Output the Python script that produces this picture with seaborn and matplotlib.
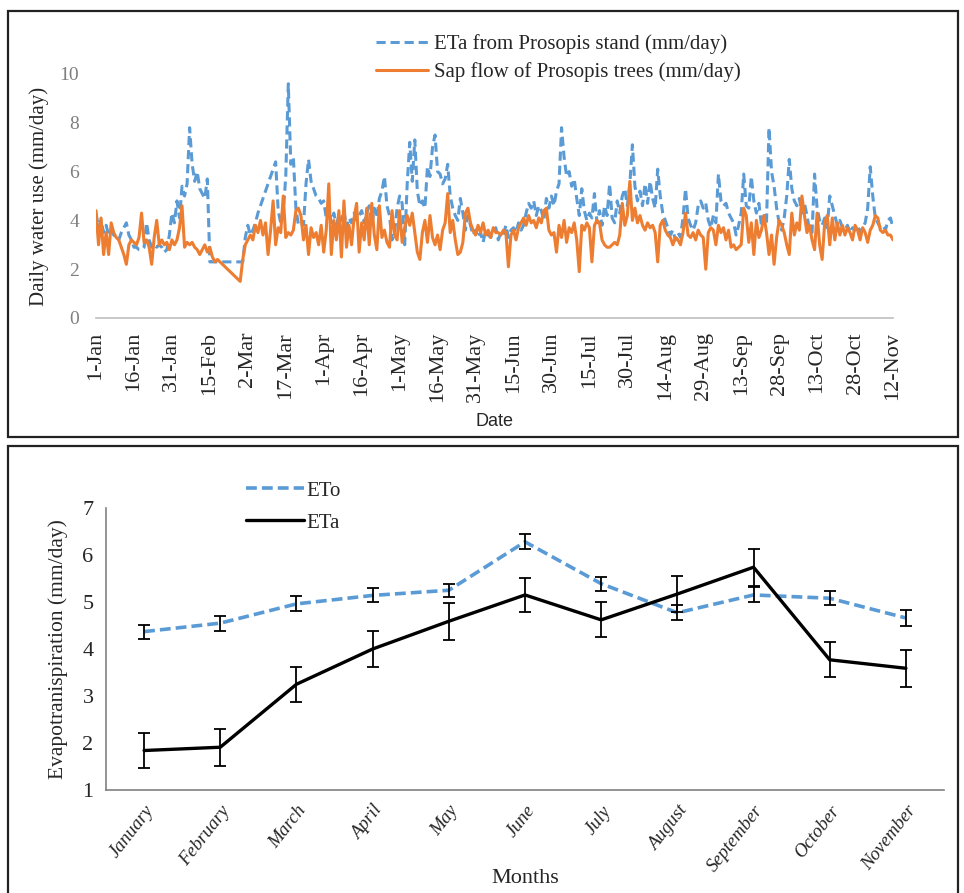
import numpy as np
import pandas as pd
import matplotlib
matplotlib.use("Agg")
import matplotlib.pyplot as plt
import seaborn as sns
from matplotlib.patches import Rectangle

# ---------------- data: top panel (daily, 1-Jan .. 12-Nov) ----------------
date_labels = ['1-Jan', '16-Jan', '31-Jan', '15-Feb', '2-Mar', '17-Mar', '1-Apr', '16-Apr',
               '1-May', '16-May', '31-May', '15-Jun', '30-Jun', '15-Jul', '30-Jul', '14-Aug',
               '29-Aug', '13-Sep', '28-Sep', '13-Oct', '28-Oct', '12-Nov']

eta_stand = [
    4.3, 3.7, 4.0, 3.5, 3.8, 3.4, 3.6, 3.4, 3.3, 3.2, 3.5, 3.7, 3.9, 3.4, 3.2,
    2.9, 2.9, 2.8, 2.8, 2.9, 3.9, 3.2, 2.9, 3.0, 2.9, 3.0, 2.9, 2.7, 2.8, 3.4,
    4.3, 3.9, 4.8, 4.1, 5.4, 5.0, 5.5, 7.8, 6.3, 5.6, 6.0, 5.3, 5.1, 4.9, 5.7,
    2.3, 2.3, 2.3, 2.3, 2.3, 2.3, 2.3, 2.3, 2.3, 2.3, 2.3, 2.3, 2.3, 2.3, 3.3,
    3.8, 3.4, 3.6, 3.9, 4.3, 4.6, 4.9, 5.2, 5.5, 5.8, 6.1, 6.4, 4.4, 3.9, 4.3,
    5.8, 9.6, 6.3, 6.6, 4.5, 3.8, 3.9, 3.8, 5.5, 6.5, 5.6, 5.3, 5.0, 4.9, 4.7,
    4.8, 4.1, 4.5, 3.9, 4.3, 3.8, 4.2, 4.0, 4.4, 3.7, 4.1, 3.9, 4.3, 4.0, 4.2,
    4.4, 3.9, 4.3, 4.6, 3.8, 4.5, 4.1, 4.9, 5.2, 5.8, 4.6, 4.2, 3.2, 3.5, 4.5,
    5.0, 4.7, 3.0, 5.5, 7.2, 5.6, 7.3, 5.2, 4.6, 4.8, 4.5, 6.2, 5.8, 7.0, 7.5,
    6.0, 5.9, 5.5, 5.7, 6.3, 5.0, 4.5, 4.2, 4.0, 4.9, 4.3, 3.6, 4.2, 3.8, 3.4,
    3.6, 3.3, 3.5, 3.1, 3.6, 3.4, 3.3, 3.5, 3.7, 3.2, 3.5, 3.4, 3.8, 3.3, 3.6,
    3.7, 3.5, 3.9, 3.6, 3.8, 4.3, 4.7, 4.5, 4.8, 4.2, 4.6, 4.4, 4.0, 4.9, 4.5,
    5.0, 4.6, 5.2, 5.5, 7.8, 6.6, 5.8, 6.0, 5.4, 5.7, 4.9, 4.2, 5.3, 4.4, 4.0,
    4.3, 4.1, 5.1, 3.9, 4.4, 3.8, 4.6, 4.2, 5.5, 4.1, 3.9, 4.8, 4.3, 5.0, 5.3,
    4.6, 5.5, 7.1, 5.4, 4.8, 5.2, 4.6, 5.5, 4.7, 5.6, 4.9, 4.5, 6.1, 5.0, 4.3,
    4.0, 3.7, 3.4, 3.6, 3.2, 3.5, 3.3, 4.1, 5.3, 4.1, 3.8, 3.6, 3.9, 4.6, 4.8,
    4.5, 4.7, 4.0, 3.7, 4.2, 3.9, 5.9, 4.8, 4.6, 4.7, 4.3, 4.1, 3.9, 3.4, 3.8,
    4.3, 5.9, 4.6, 4.5, 5.8, 4.8, 4.3, 4.7, 3.8, 4.2, 3.9, 7.8, 6.0, 5.4, 4.5,
    3.9, 3.6, 4.1, 5.0, 6.5, 5.3, 4.8, 4.6, 4.9, 4.3, 4.7, 4.2, 3.6, 3.5, 5.9,
    4.5, 4.0, 3.8, 4.1, 3.7, 5.0, 4.6, 4.2, 3.8, 4.0, 3.7, 3.6, 3.8, 3.5, 3.7,
    3.6, 3.8, 3.5, 3.7, 3.9, 4.5, 6.2, 5.0, 4.1, 3.9, 3.7, 3.8, 3.6, 4.0, 4.1,
    3.7]

sap_flow = [
    4.4, 3.0, 4.1, 2.6, 3.5, 2.6, 3.9, 3.5, 3.3, 3.2, 2.9, 2.6, 2.2, 3.0, 3.2,
    3.1, 3.0, 3.3, 4.3, 3.1, 3.2, 2.9, 2.2, 3.3, 4.0, 3.0, 3.2, 3.0, 3.1, 2.8,
    3.2, 3.0, 3.2, 3.7, 4.6, 2.9, 3.1, 3.0, 3.1, 2.9, 2.8, 2.6, 2.8, 3.0, 2.7,
    2.9, 2.5, 2.3, 2.4, 2.3, 2.2, 2.1, 2.0, 1.9, 1.8, 1.7, 1.6, 1.5, 2.4, 3.0,
    3.2, 3.4, 3.2, 3.8, 3.5, 4.0, 3.4, 3.9, 2.6, 3.6, 4.8, 3.0, 3.7, 3.5, 5.0,
    3.3, 3.5, 3.4, 3.6, 4.4, 4.5, 4.2, 3.2, 3.8, 2.6, 3.7, 3.3, 3.5, 3.0, 3.8,
    2.7, 3.6, 5.5, 2.6, 4.0, 3.2, 4.4, 2.5, 4.8, 2.9, 3.8, 3.0, 4.1, 4.7, 2.7,
    3.9, 3.2, 4.5, 3.0, 4.7, 3.4, 2.8, 4.6, 3.3, 3.6, 3.1, 2.9, 4.4, 3.4, 3.2,
    4.4, 3.1, 3.7, 4.2, 3.8, 4.3, 3.5, 2.7, 2.4, 3.5, 4.0, 3.1, 4.2, 3.3, 3.0,
    3.4, 2.8, 3.6, 3.9, 5.1, 3.5, 4.0, 3.2, 2.6, 2.7, 3.1, 4.3, 4.5, 3.9, 3.6,
    3.4, 3.8, 3.5, 3.9, 3.4, 3.6, 3.3, 3.7, 3.5, 3.5, 3.4, 3.6, 3.5, 2.1, 3.4,
    3.6, 3.2, 3.7, 3.9, 4.1, 3.8, 4.2, 3.9, 4.0, 3.7, 4.1, 3.9, 4.4, 4.5, 3.6,
    3.4, 3.5, 2.7, 3.8, 3.3, 4.0, 3.1, 3.7, 3.5, 3.9, 3.2, 1.9, 3.8, 3.6, 3.9,
    3.7, 2.3, 3.8, 4.0, 3.9, 3.2, 3.0, 2.9, 2.9, 3.0, 3.1, 3.0, 3.4, 4.7, 3.8,
    4.2, 5.6, 4.0, 4.5, 3.9, 4.2, 3.8, 3.6, 3.9, 3.7, 3.8, 3.5, 2.3, 3.8, 4.0,
    3.6, 3.4, 3.3, 3.0, 3.3, 3.2, 3.0, 3.5, 4.3, 3.4, 3.3, 3.5, 3.2, 3.6, 3.4,
    3.3, 2.0, 3.5, 3.7, 3.6, 3.0, 3.8, 3.5, 3.7, 3.2, 3.6, 2.9, 3.0, 2.8, 2.9,
    3.0, 4.5, 4.2, 3.1, 3.9, 2.6, 4.0, 3.3, 3.6, 4.2, 3.5, 2.6, 3.4, 2.2, 3.3,
    4.0, 3.8, 3.5, 3.0, 2.6, 4.3, 3.4, 3.9, 3.6, 5.0, 4.2, 3.5, 3.8, 3.2, 2.8,
    4.3, 3.0, 2.4, 3.9, 4.2, 3.0, 4.1, 3.2, 3.9, 3.4, 3.8, 3.4, 3.7, 3.5, 3.2,
    3.8, 3.6, 3.2, 3.7, 3.5, 3.1, 3.6, 3.8, 4.2, 4.1, 3.6, 3.5, 3.6, 3.4, 3.4,
    3.2]

# ---------------- data: bottom panel (monthly) ----------------
months = ['January', 'February', 'March', 'April', 'May', 'June', 'July',
          'August', 'September', 'October', 'November']
eto_mean = [4.37, 4.55, 4.96, 5.14, 5.25, 6.28, 5.39, 4.77, 5.15, 5.08, 4.66]
eto_err = [0.15, 0.16, 0.16, 0.15, 0.14, 0.16, 0.15, 0.16, 0.16, 0.15, 0.16]
eta_mean = [1.84, 1.91, 3.25, 4.00, 4.59, 5.15, 4.62, 5.17, 5.74, 3.77, 3.59]
eta_err = [0.37, 0.39, 0.37, 0.39, 0.39, 0.37, 0.37, 0.39, 0.39, 0.37, 0.39]

# ---------------- style ----------------
sns.set_style("white")
plt.rcParams['font.family'] = ['Liberation Serif', 'DejaVu Serif']

BLUE = '#5B9BD5'
ORANGE = '#ED7D31'
GRAY = '#BFBFBF'

W, H = 964, 893
fig = plt.figure(figsize=(W / 100, H / 100), dpi=100)


def fx(px):
    return px / W


def fy(py):
    return 1 - py / H


# ================= top panel =================
ax1 = fig.add_axes([fx(96), fy(318), fx(893) - fx(96), fy(74) - fy(318)])
n_days = len(eta_stand)
df_top = pd.DataFrame({
    'day': np.arange(n_days),
    'eta': eta_stand,
    'sap': sap_flow,
})
sns.lineplot(data=df_top, x='day', y='eta', ax=ax1, color=BLUE, lw=2.2,
             linestyle=(0, (3, 1.6)), label='ETa from Prosopis stand (mm/day)')
sns.lineplot(data=df_top, x='day', y='sap', ax=ax1, color=ORANGE, lw=2.2,
             label='Sap flow of Prosopis trees (mm/day)')
ax1.set_xlim(0, n_days - 1)
ax1.set_ylim(0, 10)
ax1.set_yticks([0, 2, 4, 6, 8, 10])
ax1.set_xticks(np.arange(0, n_days, 15))
ax1.set_xticklabels(date_labels, rotation=90, fontsize=16)
ax1.tick_params(axis='y', length=0, labelsize=14, labelcolor='#7F7F7F', pad=12)
ax1.tick_params(axis='x', length=6, width=1, color=GRAY, direction='out', pad=4)
for s in ['top', 'right', 'left']:
    ax1.spines[s].set_visible(False)
ax1.spines['bottom'].set_color(GRAY)
ax1.spines['bottom'].set_linewidth(1.2)
ax1.set_ylabel('Daily water use (mm/day)', fontsize=15, labelpad=8)
ax1.set_xlabel('Date', fontsize=13, family=['Liberation Sans', 'DejaVu Sans'], labelpad=8)
leg1 = ax1.legend(loc='upper left', bbox_to_anchor=(fx(376), fy(34)),
                  bbox_transform=fig.transFigure, frameon=False, fontsize=15,
                  handlelength=2.5, handletextpad=0.3, labelspacing=0.4,
                  borderaxespad=0, borderpad=0)

# ================= bottom panel =================
ax2 = fig.add_axes([fx(106), fy(790), fx(944) - fx(106), fy(508) - fy(790)])
x = np.arange(len(months))
df_bot = pd.DataFrame({'pos': x, 'month': months, 'ETo': eto_mean, 'ETa': eta_mean})
sns.lineplot(data=df_bot, x='pos', y='ETo', ax=ax2, color=BLUE, lw=2.6,
             linestyle=(0, (3, 1.4)), label='ETo')
sns.lineplot(data=df_bot, x='pos', y='ETa', ax=ax2, color='black', lw=2.4, label='ETa')
ax2.errorbar(x, eto_mean, yerr=eto_err, fmt='none', ecolor='black', elinewidth=1.3,
             capsize=4, capthick=1.3)
ax2.errorbar(x, eta_mean, yerr=eta_err, fmt='none', ecolor='black', elinewidth=1.3,
             capsize=4, capthick=1.3)
ax2.set_xlim(-0.5, len(months) - 0.5)
ax2.set_ylim(1, 7)
ax2.set_yticks(range(1, 8))
ax2.set_xticks(np.arange(-0.5, len(months), 1.0))
ax2.set_xticklabels([])
ax2.set_xticks(x, minor=True)
ax2.set_xticklabels(months, minor=True, rotation=52, ha='right', rotation_mode='anchor',
                    fontsize=13.5, style='italic')
ax2.tick_params(axis='x', which='major', length=6, width=1, color='#808080', direction='out')
ax2.tick_params(axis='x', which='minor', length=0, pad=9)
ax2.tick_params(axis='y', length=5, width=1, color='#808080', direction='out',
                labelsize=16, pad=4)
for s in ['top', 'right']:
    ax2.spines[s].set_visible(False)
for s in ['left', 'bottom']:
    ax2.spines[s].set_color('#808080')
    ax2.spines[s].set_linewidth(1.2)
ax2.set_ylabel('Evapotranispiration (mm/day)', fontsize=15.5, labelpad=10)
ax2.set_xlabel('Months', fontsize=16)
ax2.xaxis.set_label_coords(0.5, (790 - 869) / (790 - 508))
leg2 = ax2.legend(loc='upper left', bbox_to_anchor=(fx(246), fy(481)),
                  bbox_transform=fig.transFigure, frameon=False, fontsize=15,
                  handlelength=2.8, handletextpad=0.1, labelspacing=0.6,
                  borderaxespad=0, borderpad=0)

# ================= panel frames =================
fig.patches.append(Rectangle((fx(8), fy(437)), fx(958) - fx(8), fy(11) - fy(437),
                             transform=fig.transFigure, fill=False, ec='#222222', lw=1.6))
fig.patches.append(Rectangle((fx(8), fy(893) - 0.01), fx(958) - fx(8), fy(446) - fy(893) + 0.01,
                             transform=fig.transFigure, fill=False, ec='#222222', lw=1.6))

fig.savefig('out.png', dpi=100)
